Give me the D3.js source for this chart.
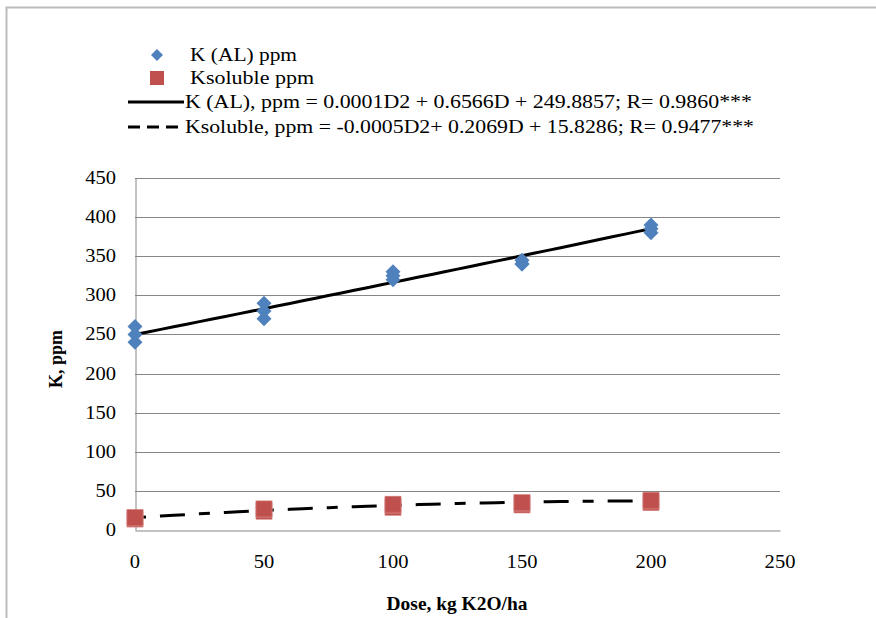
<!DOCTYPE html>
<html><head><meta charset="utf-8">
<script src="https://cdn.jsdelivr.net/npm/d3@7"></script>
<style>body{margin:0;background:#fff}svg{display:block}</style>
</head><body><div id="chart"></div>
<script>
// ---- data ----
const doses = [0, 50, 100, 150, 200];
const kAL = [[240, 250, 260], [270, 280, 290], [320, 325, 330], [340, 345, 340], [380, 385, 390]];
const kSoluble = [[14, 15, 16], [24, 26, 27], [29, 31, 33], [32, 34, 35], [35, 37, 38]];
const coefAL = [0.0001, 0.6566, 249.8857];
const coefSol = [-0.0005, 0.2069, 15.8286];
const xTicks = [0, 50, 100, 150, 200, 250];
const yTicks = [0, 50, 100, 150, 200, 250, 300, 350, 400, 450];
const legendLabels = ["K (AL) ppm", "Ksoluble ppm",
  "K (AL), ppm = 0.0001D2 + 0.6566D + 249.8857; R= 0.9860***",
  "Ksoluble, ppm = -0.0005D2+ 0.2069D + 15.8286; R= 0.9477***"];
const xTitle = "Dose, kg K2O/ha";
const yTitle = "K, ppm";

const W = 876, H = 618;
const FONT = "'Liberation Serif', 'Times New Roman', 'DejaVu Serif', serif";
const svg = d3.select("#chart").append("svg").attr("width", W).attr("height", H)
  .attr("font-family", FONT);
const x = d3.scaleLinear().domain([0, 250]).range([135, 780]);
const y = d3.scaleLinear().domain([0, 450]).range([530, 178]);
const blue = "#4F81BD", red = "#C0504D", grid = "#868686";
const SX = 1.14;

// outer border
svg.append("path").attr("d", `M6.5,618 V7.5 H876`).attr("fill", "none").attr("stroke", "#bcbcbc").attr("stroke-width", 2);

// gridlines
svg.append("g").selectAll("line").data(yTicks.filter(d => d > 0)).join("line")
  .attr("x1", x(0)).attr("x2", x(250)).attr("y1", d => Math.round(y(d)) + 0.5).attr("y2", d => Math.round(y(d)) + 0.5)
  .attr("stroke", grid).attr("stroke-width", 1);

// axes lines (no ticks)
const xAxis = d3.axisBottom(x).tickValues(xTicks).tickSize(0).tickFormat("");
const yAxis = d3.axisLeft(y).tickValues(yTicks).tickSize(0).tickFormat("");
svg.append("g").attr("transform", `translate(0,${Math.round(y(0)) + 0.5})`).call(xAxis)
  .call(g => g.select(".domain").attr("stroke", grid));
svg.append("g").attr("transform", `translate(${x(0) + 0.5},0)`).call(yAxis)
  .call(g => g.select(".domain").attr("stroke", grid));

function stext(str, tx, ty, opts = {}) {
  const t = svg.append("text").attr("transform", `translate(${tx},${ty}) scale(${opts.sx || SX},1)`)
    .attr("font-family", FONT)
    .attr("font-size", opts.size || 18).attr("fill", "#000")
    .attr("text-anchor", opts.anchor || "start").text(str);
  if (opts.bold) t.attr("font-weight", "bold");
  if (opts.len) t.attr("textLength", opts.len).attr("lengthAdjust", "spacingAndGlyphs");
  return t;
}

// tick labels
yTicks.forEach(v => stext(v, 116, y(v) + 6, { anchor: "end" }));
xTicks.forEach(v => stext(v, x(v), 568, { anchor: "middle" }));

// axis titles
stext(xTitle, 457, 610, { anchor: "middle", bold: true, sx: 1.08 });
svg.append("text").attr("transform", `translate(62,359) rotate(-90)`).attr("text-anchor", "middle")
  .attr("font-family", FONT).attr("font-size", 18).attr("font-weight", "bold").text(yTitle);

// trendlines
const quad = c => d => c[0] * d * d + c[1] * d + c[2];
const curveD = d3.range(0, 200.01, 5);
const line = f => d3.line().x(d => x(d)).y(d => y(f(d)));
svg.append("path").datum(curveD).attr("d", line(quad(coefAL))).attr("fill", "none")
  .attr("stroke", "#000").attr("stroke-width", 3);
svg.append("path").datum(curveD).attr("d", line(quad(coefSol))).attr("fill", "none")
  .attr("stroke", "#000").attr("stroke-width", 3).attr("stroke-dasharray", "11,14,25,14");

// points
const diamond = (cx, cy, r) => `M${cx},${cy - r}L${cx + r},${cy}L${cx},${cy + r}L${cx - r},${cy}Z`;
const alPts = doses.flatMap((d, i) => kAL[i].map(v => [d, v]));
const solPts = doses.flatMap((d, i) => kSoluble[i].map(v => [d, v]));
svg.append("g").selectAll("path").data(alPts).join("path")
  .attr("d", p => diamond(x(p[0]), y(p[1]), 7.5)).attr("fill", blue);
svg.append("g").selectAll("rect").data(solPts).join("rect")
  .attr("x", p => x(p[0]) - 8).attr("y", p => y(p[1]) - 8).attr("width", 16).attr("height", 16)
  .attr("fill", red).attr("stroke", "#d47f7d").attr("stroke-width", 0.6);

// legend
const rows = [55, 78, 102, 127];
svg.append("path").attr("d", diamond(157, rows[0], 6)).attr("fill", blue);
svg.append("rect").attr("x", 150).attr("y", rows[1] - 7).attr("width", 14).attr("height", 14).attr("fill", red);
svg.append("line").attr("x1", 128).attr("x2", 184).attr("y1", rows[2]).attr("y2", rows[2]).attr("stroke", "#000").attr("stroke-width", 3);
svg.append("line").attr("x1", 128).attr("x2", 184).attr("y1", rows[3]).attr("y2", rows[3]).attr("stroke", "#000").attr("stroke-width", 3).attr("stroke-dasharray", "12,7");
stext(legendLabels[0], 190, rows[0] + 6, { sx: 1, len: 107 });
stext(legendLabels[1], 190, rows[1] + 6, { sx: 1, len: 124 });
stext(legendLabels[2], 185, rows[2] + 6, { sx: 1, len: 567 });
stext(legendLabels[3], 185, rows[3] + 6, { sx: 1, len: 569 });
</script></body></html>
